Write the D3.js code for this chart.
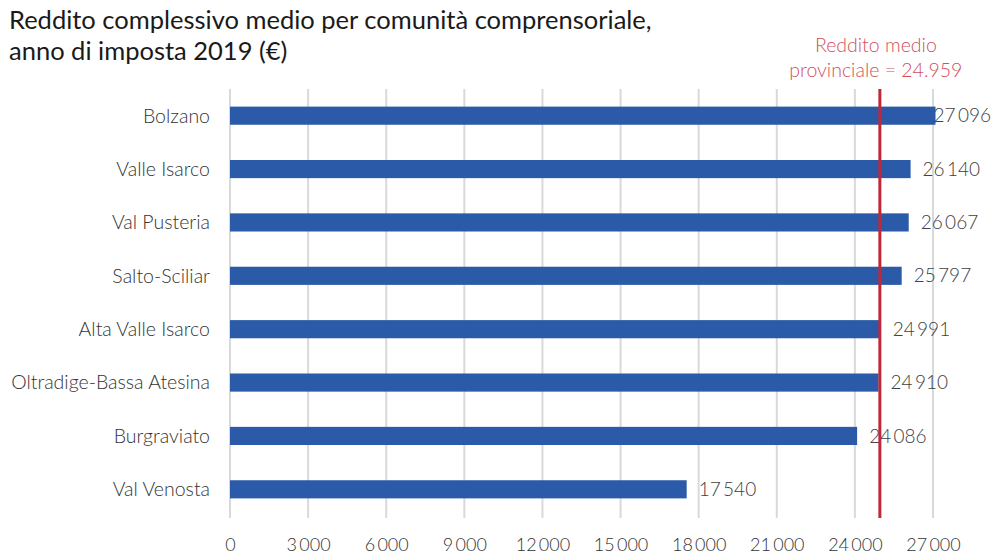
<!DOCTYPE html>
<html>
<head>
<meta charset="utf-8">
<script src="https://cdn.jsdelivr.net/npm/d3@7"></script>
<style>
  body { margin: 0; background: #fff; }
  svg { display: block; font-family: Lato, "Open Sans", sans-serif; }
</style>
</head>
<body>
<svg id="chart" width="997" height="557"></svg>
<script>
// data
const categories = ["Bolzano", "Valle Isarco", "Val Pusteria", "Salto-Sciliar",
    "Alta Valle Isarco", "Oltradige-Bassa Atesina", "Burgraviato", "Val Venosta"];
const values = [27096, 26140, 26067, 25797, 24991, 24910, 24086, 17540];
const tickValues = [0, 3000, 6000, 9000, 12000, 15000, 18000, 21000, 24000, 27000];
const provincialMean = 24959;
const titleLines = ["Reddito complessivo medio per comunità comprensoriale,", "anno di imposta 2019 (€)"];
const meanLabel = ["Reddito medio", "provinciale = 24.959"];

let svg = d3.select("#chart");

let margin = {left: 230, right: 64, top: 89, bottom: 41};
let width = 997 - margin.left - margin.right;

let x = d3.scaleLinear().domain([0, 27000]).range([margin.left, margin.left + width]);
let y = d3.scaleBand().domain(categories).range([margin.top, 557 - margin.bottom])
    .paddingInner(0.66).paddingOuter(0.33);

let fmt = (v) => d3.format(",")(v).replace(/,/g, "\u2009");

// title
svg.append("text")
    .style("font-size", "25.5px").style("fill", "#1a1a1a")
    .selectAll("tspan").data(titleLines).enter().append("tspan")
    .attr("x", 9).attr("y", (d, i) => 29 + i * 31)
    .text(d => d);

// gridlines
svg.append("g").selectAll("line").data(tickValues).enter().append("line")
    .attr("x1", d => x(d)).attr("x2", d => x(d))
    .attr("y1", margin.top).attr("y2", 557 - margin.bottom + 2)
    .style("stroke", "#d9d9d9").style("stroke-width", 2);

// x axis
let xAxis = svg.append("g")
    .attr("transform", "translate(0," + (557 - margin.bottom) + ")")
    .call(d3.axisBottom(x).tickValues(tickValues).tickSize(0).tickPadding(22).tickFormat(fmt));
xAxis.select(".domain").remove();
xAxis.selectAll("text").style("font-size", "18px").style("fill", "#333")
    .style("font-weight", 300)
    .style("font-family", "Lato, sans-serif");

// bars
svg.append("g").selectAll("rect").data(values).enter().append("rect")
    .attr("x", x(0))
    .attr("y", (d, i) => y(categories[i]))
    .attr("width", d => x(d) - x(0))
    .attr("height", y.bandwidth())
    .style("fill", "#2b5ba8");

// category labels
svg.append("g").selectAll("text").data(categories).enter().append("text")
    .attr("x", 210)
    .attr("y", d => y(d) + y.bandwidth() / 2)
    .attr("dy", "0.35em")
    .attr("text-anchor", "end")
    .style("font-size", "19.5px").style("fill", "#333")
    .style("font-weight", 300)
    .text(d => d);

// value labels (kept inside the picture)
svg.append("g").selectAll("text").data(values).enter().append("text")
    .attr("y", (d, i) => y(categories[i]) + y.bandwidth() / 2)
    .attr("dy", "0.35em")
    .style("font-size", "19px").style("fill", "#404040")
    .style("font-weight", 300)
    .text(d => fmt(d))
    .attr("x", function(d){
        let w = this.getComputedTextLength();
        return Math.min(x(d) + 12, 997 - w - 6);
    });

// provincial mean line
svg.append("line")
    .attr("x1", x(provincialMean)).attr("x2", x(provincialMean))
    .attr("y1", margin.top).attr("y2", 557 - margin.bottom + 2)
    .style("stroke", "#c0283a").style("stroke-width", 3);

svg.append("text")
    .attr("text-anchor", "middle")
    .style("font-size", "19.5px").style("fill", "#d0505e")
    .style("font-weight", 300)
    .selectAll("tspan").data(meanLabel).enter().append("tspan")
    .attr("x", x(provincialMean) - 4).attr("y", (d, i) => 52 + i * 25)
    .text(d => d);
</script>
</body>
</html>
